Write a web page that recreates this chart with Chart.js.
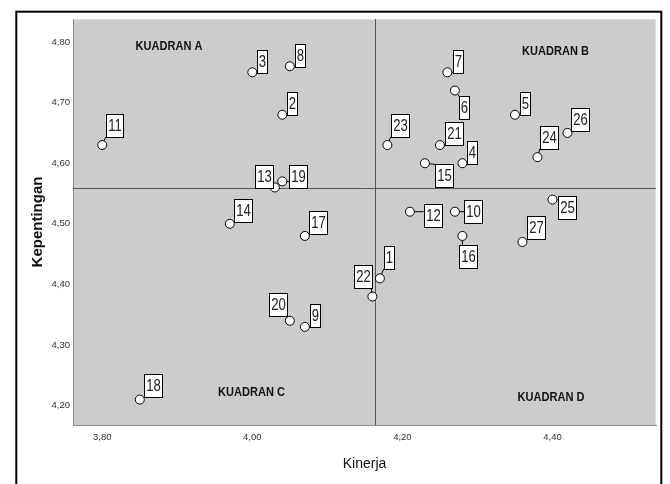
<!DOCTYPE html>
<html>
<head>
<meta charset="utf-8">
<script src="https://cdn.jsdelivr.net/npm/chart.js@4"></script>
<style>
  html, body { margin: 0; padding: 0; background: #ffffff; }
  #wrap { width: 670px; height: 484px; position: relative; }
</style>
</head>
<body>
<div id="wrap"><canvas id="c" width="670" height="484"></canvas></div>
<script>
// ---------- data ----------
const pointIds = ['1','2','3','4','5','6','7','8','9','10','11','12','13','14','15','16','17','18','19','20','21','22','23','24','25','26','27'];
const kinerja = [4.17, 4.04, 4.00, 4.28, 4.35, 4.27, 4.26, 4.05, 4.07, 4.27, 3.80, 4.21, 4.03, 3.97, 4.23, 4.28, 4.07, 3.85, 4.04, 4.05, 4.25, 4.16, 4.18, 4.38, 4.40, 4.42, 4.36];
const kepentingan = [4.41, 4.68, 4.75, 4.60, 4.68, 4.72, 4.75, 4.76, 4.33, 4.52, 4.63, 4.52, 4.56, 4.50, 4.60, 4.48, 4.48, 4.21, 4.57, 4.34, 4.63, 4.38, 4.63, 4.61, 4.54, 4.65, 4.47];
const xTickValues = [3.8, 4.0, 4.2, 4.4];
const yTickValues = [4.2, 4.3, 4.4, 4.5, 4.6, 4.7, 4.8];
const meanKinerja = 4.164;
const meanKepentingan = 4.559;
const quadrantNames = ['KUADRAN A', 'KUADRAN B', 'KUADRAN C', 'KUADRAN D'];
const quadrantX = [3.889, 4.404, 3.999, 4.398];
const quadrantY = [4.793, 4.784, 4.221, 4.213];

// ---------- label placement (style: box centre offset from point, px) ----------
const labelOffsets = [
  [9, -21], [10.3, -11], [10.3, -10.8], [9.6, -10.3], [10, -11], [9.3, 17.2], [10.4, -10.8],
  [10.7, -10.7], [10.3, -11], [18, 0], [11.7, -19.4], [22.5, 4.3], [-11.3, -11.3], [12.7, -13.4],
  [19.3, 12.7], [5, 21], [12.7, -13.6], [12.6, -14.3], [15.6, -5.3], [-12.3, -16.7], [14.3, -11.7],
  [-10, -20.2], [12, -19.4], [11.4, -20], [14, 8.4], [12.6, -13.7], [13, -14]
];

function hasFont(name) {
  const c = document.createElement('canvas').getContext('2d');
  c.font = '40px monospace';
  const a = c.measureText('0123456789abcK').width;
  c.font = '40px "' + name + '", monospace';
  return c.measureText('0123456789abcK').width !== a;
}
const narrow = hasFont('Liberation Sans Narrow');
const tickFont = narrow ? { family: '"Liberation Sans Narrow"', size: 10 } : { family: '"Liberation Sans", Arial, sans-serif', size: 9.5 };
const fmt = v => Number(v).toFixed(2).replace('.', ',');

const points = kinerja.map((x, i) => ({ x: x, y: kepentingan[i] }));

function rectFor(ctx, cx, cy, text) {
  ctx.font = '16px "Liberation Sans", Arial, sans-serif';
  const w = ctx.measureText(text).width * 0.82 + 3;
  const h = 23;
  return { x: cx - w / 2, y: cy - h / 2, w: w, h: h };
}

const decor = {
  id: 'decor',
  beforeDraw(chart) {
    const { ctx, chartArea: a } = chart;
    ctx.save();
    ctx.fillStyle = '#ffffff';
    ctx.fillRect(0, 0, chart.width, chart.height);
    // outer frame
    ctx.strokeStyle = '#000000';
    ctx.lineWidth = 2;
    ctx.strokeRect(16.3, 11.7, 645, 520);
    // plot background
    ctx.fillStyle = '#cccccc';
    ctx.fillRect(a.left, a.top, a.right - a.left, a.bottom - a.top);
    ctx.strokeStyle = '#dedede';
    ctx.lineWidth = 1;
    ctx.beginPath();
    ctx.moveTo(a.left, a.top + 0.5); ctx.lineTo(a.right - 0.5, a.top + 0.5); ctx.lineTo(a.right - 0.5, a.bottom);
    ctx.stroke();
    ctx.restore();
  },
  beforeDatasetsDraw(chart) {
    const { ctx, chartArea: a, scales } = chart;
    const xs = scales.x, ys = scales.y;
    ctx.save();
    // reference lines
    ctx.strokeStyle = '#555555';
    ctx.lineWidth = 1;
    const mx = Math.round(xs.getPixelForValue(meanKinerja)) + 0.5;
    const my = Math.round(ys.getPixelForValue(meanKepentingan)) + 0.5;
    ctx.beginPath();
    ctx.moveTo(mx, a.top); ctx.lineTo(mx, a.bottom);
    ctx.moveTo(a.left, my); ctx.lineTo(a.right, my);
    ctx.stroke();
    // quadrant labels
    ctx.fillStyle = '#111111';
    ctx.font = 'bold 13px "Liberation Sans", Arial, sans-serif';
    ctx.textAlign = 'center';
    ctx.textBaseline = 'middle';
    quadrantNames.forEach((t, i) => {
      const px = xs.getPixelForValue(quadrantX[i]);
      const py = ys.getPixelForValue(quadrantY[i]);
      ctx.save();
      ctx.translate(px, py);
      ctx.scale(0.85, 1);
      ctx.fillText(t, 0, 0);
      ctx.restore();
    });
    // connectors
    const meta = chart.getDatasetMeta(0);
    ctx.strokeStyle = '#000000';
    ctx.lineWidth = 1;
    meta.data.forEach((el, i) => {
      const cx = el.x + labelOffsets[i][0], cy = el.y + labelOffsets[i][1];
      const r = rectFor(ctx, cx, cy, pointIds[i]);
      const tx = Math.max(r.x, Math.min(el.x, r.x + r.w));
      const ty = Math.max(r.y, Math.min(el.y, r.y + r.h));
      ctx.beginPath();
      ctx.moveTo(el.x, el.y);
      ctx.lineTo(tx, ty);
      ctx.stroke();
    });
    ctx.restore();
  },
  afterDatasetsDraw(chart) {
    const { ctx } = chart;
    const meta = chart.getDatasetMeta(0);
    ctx.save();
    meta.data.forEach((el, i) => {
      const cx = el.x + labelOffsets[i][0], cy = el.y + labelOffsets[i][1];
      const r = rectFor(ctx, cx, cy, pointIds[i]);
      const rx = Math.round(r.x) + 0.5, ry = Math.round(r.y) + 0.5;
      const rw = Math.round(r.w), rh = Math.round(r.h);
      ctx.fillStyle = '#ffffff';
      ctx.fillRect(rx, ry, rw, rh);
      ctx.strokeStyle = '#000000';
      ctx.lineWidth = 1;
      ctx.strokeRect(rx, ry, rw, rh);
      ctx.fillStyle = '#222222';
      ctx.font = '16px "Liberation Sans", Arial, sans-serif';
      ctx.textAlign = 'center';
      ctx.textBaseline = 'middle';
      ctx.save();
      ctx.translate(rx + rw / 2, ry + rh / 2 + 1);
      ctx.scale(0.82, 1);
      ctx.fillText(pointIds[i], 0, 0);
      ctx.restore();
    });
    ctx.restore();
  }
};

new Chart(document.getElementById('c'), {
  type: 'scatter',
  data: {
    datasets: [{
      label: 'Kinerja vs Kepentingan',
      data: points,
      pointRadius: 4.5,
      pointHoverRadius: 4.5,
      pointBackgroundColor: '#ffffff',
      pointBorderColor: '#000000',
      pointBorderWidth: 1
    }]
  },
  options: {
    responsive: false,
    animation: false,
    events: [],
    layout: { padding: { left: 0, right: 14, top: 19, bottom: 0 } },
    plugins: { legend: { display: false }, tooltip: { enabled: false } },
    scales: {
      x: {
        type: 'linear',
        min: 3.761,
        max: 4.538,
        afterBuildTicks: s => { s.ticks = xTickValues.map(v => ({ value: v })); },
        afterFit: s => { s.height = 59; },
        grid: { display: false, drawTicks: false },
        border: { display: true, color: '#8c8c8c', width: 1 },
        ticks: { padding: 7, color: '#333333', font: tickFont, callback: v => fmt(v), autoSkip: false, maxRotation: 0 },
        title: {
          display: true,
          text: 'Kinerja',
          color: '#111111',
          font: { family: '"Liberation Sans", Arial, sans-serif', size: 14 },
          padding: { top: 0, bottom: 11.5 }
        }
      },
      y: {
        type: 'linear',
        min: 4.168,
        max: 4.838,
        afterBuildTicks: s => { s.ticks = yTickValues.map(v => ({ value: v })); },
        afterFit: s => { s.width = 73; },
        grid: { display: false, drawTicks: false },
        border: { display: true, color: '#8c8c8c', width: 1 },
        ticks: { padding: 3, color: '#333333', font: tickFont, callback: v => fmt(v), autoSkip: false },
        title: {
          display: true,
          text: 'Kepentingan',
          color: '#111111',
          font: { family: '"Liberation Sans", Arial, sans-serif', size: 15, weight: 'bold' },
          padding: { top: 28.5, bottom: 0 }
        }
      }
    }
  },
  plugins: [decor]
});
</script>
</body>
</html>
